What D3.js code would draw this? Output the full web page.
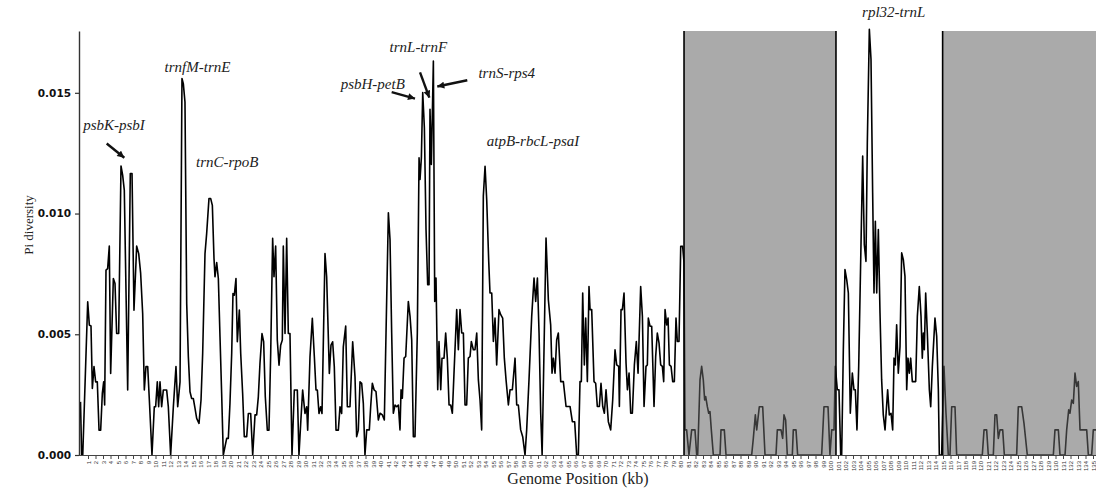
<!DOCTYPE html>
<html>
<head>
  <meta charset="utf-8">
  <title>Pi diversity</title>
  <script src="https://cdnjs.cloudflare.com/ajax/libs/d3/7.8.5/d3.min.js"></script>
  <style>
    body { margin: 0; background: #fff; }
    .ann { font-family: 'Liberation Serif', serif; font-style: italic; font-size: 15px; fill: #222; text-anchor: middle; }
    .axis-title { font-family: 'Liberation Serif', serif; fill: #222; text-anchor: middle; }
  </style>
</head>
<body>
  <svg id="chart" width="1096" height="492"></svg>
  <script>
    // window midpoints (kb) and nucleotide diversity in units of 0.001
    const kb = [
      0, 0.15, 0.3, 0.96, 1.18, 1.40, 1.58, 1.80, 2.02, 2.24, 2.47, 2.69,
      2.91, 3.09, 3.22, 3.40, 3.62, 3.84, 4.02, 4.38, 4.60, 4.82, 5.09, 5.40,
      5.62, 5.84, 6.29, 6.64, 6.87, 7.13, 7.49, 7.76, 8.02, 8.29, 8.51, 8.73,
      8.96, 9.18, 9.53, 9.84, 10.02, 10.24, 10.42, 10.60, 10.82, 11.04, 11.49, 11.71,
      12.02, 12.38, 12.73, 12.96, 13.27, 13.53, 13.71, 13.93, 14.16, 14.38, 14.60, 14.82,
      15.04, 15.27, 15.49, 15.80, 16.07, 16.29, 16.60, 16.82, 17.13, 17.36, 17.58, 17.80,
      17.93, 18.16, 18.38, 18.60, 18.82, 19.04, 19.49, 19.71, 19.93, 20.16, 20.33, 20.51,
      20.73, 20.91, 21.18, 21.36, 21.62, 21.84, 22.16, 22.38, 22.69, 22.96, 23.27, 23.49,
      23.71, 23.93, 24.20, 24.42, 24.64, 24.91, 25.13, 25.36, 25.62, 25.80, 26.02, 26.24,
      26.47, 26.69, 26.91, 27.04, 27.27, 27.49, 27.71, 27.93, 28.20, 28.51, 28.91, 29.13,
      29.36, 29.62, 29.93, 30.16, 30.29, 30.60, 30.91, 31.18, 31.40, 31.58, 31.80, 32.02,
      32.20, 32.60, 32.82, 33.18, 33.40, 33.62, 33.84, 34.07, 34.38, 34.60, 34.82, 35.04,
      35.36, 35.58, 35.93, 36.29, 36.60, 36.82, 37.04, 37.27, 37.49, 37.71, 37.93, 38.16,
      38.51, 38.69, 38.91, 39.14, 39.40, 39.71, 39.94, 40.25, 40.51, 41.05, 41.27, 41.49,
      41.71, 41.94, 42.16, 42.38, 42.60, 42.74, 42.91, 43.14, 43.36, 43.71, 43.94, 44.16,
      44.38, 44.60, 44.91, 45.14, 45.27, 45.45, 45.63, 45.85, 46.07, 46.29, 46.47, 46.60,
      46.78, 47.05, 47.23, 47.40, 47.63, 47.80, 48.03, 48.20, 48.47, 48.69, 48.91, 49.14,
      49.36, 49.58, 49.80, 50.16, 50.38, 50.60, 50.83, 51.05, 51.27, 51.49, 51.71, 51.94,
      52.11, 52.38, 52.60, 52.83, 53.05, 53.27, 53.49, 53.71, 53.94, 54.16, 54.43, 54.60,
      54.83, 55.05, 55.27, 55.49, 55.80, 56.03, 56.29, 56.51, 56.74, 57.05, 57.27, 57.58,
      57.94, 58.16, 58.38, 58.69, 58.96, 59.27, 59.49, 59.80, 60.16, 60.47, 60.69, 60.92,
      61.14, 61.36, 61.55, 62.07, 62.38, 62.69, 62.87, 63.05, 63.27, 63.49, 63.71, 64.03,
      64.38, 64.74, 65.27, 65.58, 65.89, 66.16, 66.38, 66.60, 66.78, 66.96, 67.18, 67.36,
      67.58, 67.80, 67.94, 68.16, 68.47, 68.69, 68.91, 69.18, 69.40, 69.63, 69.85, 70.07,
      70.38, 70.69, 70.96, 71.27, 71.49, 71.76, 71.85, 72.07, 72.25, 72.47, 72.74, 72.92,
      73.14, 73.36, 73.58, 73.85, 74.11, 74.34, 74.69, 74.92, 75.14, 75.40, 75.58, 75.71,
      75.94, 76.16, 76.47, 76.69, 76.91, 77.14, 77.36, 77.58, 77.76, 77.94, 78.16, 78.34,
      78.52, 78.74, 78.96, 79.18, 79.40, 79.58, 79.80, 80.03, 80.29, 80.47, 80.60, 80.82,
      81.13, 81.49, 81.93, 82.16, 82.29, 82.60, 82.82, 83.04, 83.22, 83.36, 83.58, 83.76,
      83.93, 84.11, 84.38, 85.27, 85.40, 85.84, 86.07, 89.49, 89.71, 89.98, 90.16, 90.51,
      90.96, 91.27, 92.73, 92.91, 93.40, 93.62, 93.80, 94.02, 94.24, 94.91, 95.04, 95.40,
      95.62, 98.82, 99.13, 99.67, 99.93, 100.16, 100.47, 100.64, 100.91, 101.13, 101.36, 101.49,
      101.71, 101.93, 102.16, 102.38, 102.64, 102.91, 103.13, 103.31, 103.53, 103.76, 104.02, 104.29,
      104.51, 104.73, 104.91, 105.18, 105.40, 105.62, 105.80, 105.98, 106.16, 106.38, 106.60, 106.82,
      107.04, 107.27, 107.62, 107.84, 108.07, 108.29, 108.47, 108.64, 108.82, 109.04, 109.27, 109.49,
      109.71, 109.93, 110.16, 110.33, 110.51, 110.69, 110.91, 111.36, 111.58, 111.84, 112.07, 112.24,
      112.38, 112.51, 112.69, 112.91, 113.18, 113.36, 113.58, 113.93, 114.16, 114.38, 114.51, 114.82,
      115.13, 115.40, 115.71, 115.93, 116.16, 116.60, 116.82, 120.24, 120.47, 120.82, 121.04, 121.71,
      121.93, 122.16, 122.38, 122.60, 122.96, 123.18, 124.82, 125.04, 125.49, 125.80, 126.24, 129.71,
      129.93, 130.38, 130.60, 131.27, 131.49, 131.76, 131.93, 132.16, 132.38, 132.60, 132.82, 133.04,
      133.27, 134.16, 134.38, 134.82, 135.04, 135.40
    ];
    const piMilli = [
      2.2, 0, 0, 6.34, 5.38, 5.34, 2.76, 3.66, 3.03, 3.03, 1.03, 1.03,
      2.55, 3.03, 2.07, 7.66, 7.72, 8.65, 3.38, 7.31, 7.10, 5.03, 5.03, 11.97,
      11.59, 10.97, 2.69, 11.66, 11.66, 6.00, 8.65, 8.34, 7.52, 5.86, 2.69, 3.66,
      3.66, 2.28, 0, 2.0, 2.0, 3.03, 2.0, 3.03, 2.0, 2.69, 2.69, 2.0,
      0, 2.0, 3.66, 2.0, 3.03, 15.59, 15.38, 14.62, 6.28, 4.07, 2.62, 2.34,
      2.34, 1.93, 1.52, 1.31, 2.28, 4.21, 8.34, 9.17, 10.62, 10.62, 10.34, 8.14,
      7.38, 7.97, 7.31, 4.90, 2.55, 0, 0.69, 0.69, 2.14, 4.21, 6.69, 6.62,
      7.31, 4.69, 6.00, 4.21, 2.55, 0.76, 0.76, 1.72, 1.72, 0, 1.66, 1.66,
      2.41, 3.79, 5.03, 4.69, 2.41, 1.03, 1.03, 4.21, 8.97, 7.38, 8.65, 4.76,
      3.72, 4.55, 4.76, 8.65, 5.03, 8.97, 5.03, 5.03, 0, 2.69, 2.69, 0,
      1.31, 2.69, 1.72, 2.0, 1.03, 4.07, 5.66, 4.07, 2.69, 2.69, 1.72, 2.0,
      1.72, 8.34, 7.38, 3.38, 4.55, 4.69, 3.66, 1.03, 1.03, 2.0, 1.72, 4.48,
      5.34, 2.0, 2.0, 4.69, 3.24, 0.76, 1.03, 3.03, 2.97, 2.14, 0, 1.04,
      1.04, 2.0, 2.97, 2.70, 2.63, 1.45, 1.73, 1.66, 1.45, 10.03, 8.92, 5.05,
      1.73, 2.07, 2.0, 2.07, 1.04, 2.70, 2.35, 4.01, 4.08, 6.36, 5.74, 4.77,
      0.76, 0.76, 5.05, 12.31, 11.41, 12.31, 15.01, 13.55, 9.34, 7.05, 7.05, 14.32,
      12.03, 16.32, 6.36, 7.33, 2.70, 4.70, 2.70, 4.01, 4.01, 5.05, 4.01, 2.07,
      2.07, 1.73, 3.39, 6.02, 4.36, 6.02, 5.05, 5.05, 2.07, 2.07, 4.01, 4.08,
      4.70, 4.36, 4.36, 5.05, 3.11, 2.28, 1.04, 10.72, 11.96, 10.58, 8.02, 6.71,
      6.71, 4.70, 5.67, 3.73, 6.02, 5.81, 5.67, 4.01, 3.11, 2.07, 2.70, 2.70,
      4.01, 2.07, 2.07, 1.04, 0.76, 0, 1.04, 3.11, 5.74, 7.33, 6.36, 7.33,
      5.05, 1.73, 0, 8.99, 6.43, 5.39, 3.39, 4.01, 3.39, 4.77, 5.05, 3.04,
      3.04, 2.01, 2.01, 1.38, 1.38, 0, 0, 3.04, 3.04, 6.71, 3.73, 5.67,
      3.04, 6.98, 6.02, 6.02, 3.04, 2.97, 2.01, 2.01, 2.97, 2.01, 1.73, 2.70,
      1.38, 1.04, 2.28, 4.36, 3.73, 3.67, 2.01, 6.02, 6.02, 6.71, 3.80, 2.70,
      3.39, 1.73, 1.73, 3.73, 4.70, 3.39, 6.98, 5.74, 2.01, 3.67, 3.73, 5.67,
      5.33, 5.33, 2.01, 4.08, 5.05, 4.63, 3.73, 3.67, 3.04, 6.02, 5.39, 5.67,
      3.73, 3.67, 3.04, 3.04, 5.67, 4.70, 4.70, 8.64, 8.64, 7.95, 1.04, 1.04,
      0, 1.04, 1.04, 0, 0, 3.11, 3.67, 3.11, 2.28, 2.42, 2.0, 1.73,
      1.80, 1.04, 0, 0, 1.04, 1.04, 0, 0, 0.69, 1.66, 1.04, 2.0,
      2.0, 0, 0, 1.04, 1.04, 0.69, 1.66, 1.45, 0, 0, 1.04, 1.04,
      0, 0, 2.0, 2.0, 0, 1.04, 1.04, 3.67, 2.70, 2.70, 0, 0,
      4.36, 7.68, 7.26, 6.71, 1.73, 3.39, 2.70, 2.70, 1.04, 3.67, 7.95, 12.38,
      8.71, 8.02, 12.93, 17.63, 16.39, 10.86, 6.71, 9.68, 6.71, 9.34, 5.88, 3.11,
      1.66, 1.04, 2.70, 1.66, 1.73, 1.04, 4.01, 3.73, 5.39, 3.39, 4.50, 8.37,
      8.09, 7.40, 2.70, 4.01, 3.39, 4.01, 3.04, 3.04, 5.74, 6.98, 5.74, 4.01,
      5.05, 4.36, 6.71, 5.05, 2.70, 2.0, 3.67, 5.67, 4.91, 2.70, 0, 0,
      3.67, 1.73, 0, 0, 2.0, 2.0, 0, 0, 1.04, 1.04, 0, 0,
      1.66, 1.66, 0.69, 1.04, 1.04, 0, 0, 2.0, 2.0, 1.31, 0, 0,
      1.04, 1.04, 0, 0, 1.04, 1.87, 1.73, 2.28, 2.14, 3.39, 2.84, 3.04,
      1.04, 1.04, 0, 0, 1.04, 1.04
    ];

    // inverted repeat regions (kb)
    const irStart = [80.47, 114.95];
    const irEnd = [100.73, 135.4];

    const yTickValues = [0, 5, 10, 15];
    const yTickLabels = ['0.000', '0.005', '0.010', '0.015'];
    const xTicks = d3.range(1, 136);

    const labelText = ['psbK-psbI', 'trnfM-trnE', 'trnC-rpoB', 'psbH-petB', 'trnL-trnF', 'trnS-rps4', 'atpB-rbcL-psaI', 'rpl32-trnL'];
    const labelKb = [4.47, 15.6, 19.57, 38.97, 45.04, 56.83, 60.33, 108.44];
    const labelPi = [13.44, 15.85, 11.91, 15.15, 16.69, 15.60, 12.79, 18.12];

    // arrows: from (kb, pi) to (kb, pi)
    const arrowFrom = [[3.49, 12.9], [41.49, 15.03], [45.27, 15.85], [51.57, 15.52]];
    const arrowTo = [[5.84, 12.31], [44.6, 14.76], [46.51, 14.80], [47.57, 15.26]];

    const data = kb.map((k, i) => ({ kb: k, pi: piMilli[i] }));

    const svg = d3.select('#chart');
    const x = d3.scaleLinear().domain([0, 135.4]).range([80.5, 1096]);
    const y = d3.scaleLinear().domain([0, 17.56]).range([455, 31]);

    // diversity line
    const line = d3.line().x(d => x(d.kb)).y(d => y(d.pi));
    svg.append('path')
      .datum(data)
      .attr('d', line)
      .attr('fill', 'none')
      .attr('stroke', '#000')
      .attr('stroke-width', 1.6)
      .attr('stroke-linejoin', 'round');

    // shaded IR blocks laid over the line
    svg.append('g').selectAll('rect')
      .data(irStart)
      .join('rect')
      .attr('x', (d, i) => x(d))
      .attr('y', y(17.56))
      .attr('width', (d, i) => x(irEnd[i]) - x(d))
      .attr('height', y(0) - y(17.56))
      .attr('fill', '#646464')
      .attr('fill-opacity', 0.55);

    const edges = irStart.concat(irEnd).filter(d => d < 135.4);
    svg.append('g').selectAll('line')
      .data(edges)
      .join('line')
      .attr('x1', d => x(d)).attr('x2', d => x(d))
      .attr('y1', y(17.56)).attr('y2', y(0))
      .attr('stroke', '#000')
      .attr('stroke-width', 1.6);

    // axes
    const yAxis = d3.axisLeft(y)
      .tickValues(yTickValues)
      .tickFormat((d, i) => yTickLabels[i])
      .tickSize(4)
      .tickSizeOuter(0)
      .tickPadding(4);
    const gy = svg.append('g').attr('transform', 'translate(79,0)').call(yAxis);
    gy.select('.domain').attr('stroke', '#333').attr('stroke-width', 1.4);
    gy.selectAll('.tick line').attr('stroke', '#333').attr('stroke-width', 1.2);
    gy.selectAll('text')
      .attr('font-family', 'DejaVu Sans, sans-serif')
      .attr('font-weight', 'bold')
      .attr('font-size', 10.5)
      .attr('fill', '#111');

    const xAxis = d3.axisBottom(x).tickValues(xTicks).tickSize(4).tickSizeOuter(0);
    const gx = svg.append('g').attr('transform', 'translate(0,455)').call(xAxis);
    gx.select('.domain').attr('d', 'M79,0.5H1096').attr('stroke', '#444').attr('stroke-width', 1.2);
    gx.selectAll('.tick line').attr('stroke', '#444');
    gx.selectAll('text')
      .attr('transform', 'rotate(-90)')
      .attr('text-anchor', 'end')
      .attr('x', -6)
      .attr('y', 0)
      .attr('dy', '0.35em')
      .attr('font-family', 'Liberation Sans, sans-serif')
      .attr('font-size', 6)
      .attr('fill', '#333');

    // axis titles
    svg.append('text')
      .attr('class', 'axis-title')
      .attr('font-size', 16)
      .attr('x', 578)
      .attr('y', 484)
      .text('Genome Position (kb)');
    svg.append('text')
      .attr('class', 'axis-title')
      .attr('font-size', 13)
      .attr('transform', 'translate(33,225) rotate(-90)')
      .text('Pi diversity');

    // region labels
    svg.append('g').selectAll('text')
      .data(labelText)
      .join('text')
      .attr('class', 'ann')
      .attr('x', (d, i) => x(labelKb[i]))
      .attr('y', (d, i) => y(labelPi[i]))
      .text(d => d);

    svg.append('defs').append('marker')
      .attr('id', 'head')
      .attr('viewBox', '0 0 10 10')
      .attr('refX', 10).attr('refY', 5)
      .attr('markerUnits', 'userSpaceOnUse')
      .attr('markerWidth', 8).attr('markerHeight', 7)
      .attr('orient', 'auto')
      .append('path')
      .attr('d', 'M0,0L10,5L0,10z')
      .attr('fill', '#111');

    svg.append('g').selectAll('line')
      .data(arrowFrom)
      .join('line')
      .attr('x1', d => x(d[0]))
      .attr('y1', d => y(d[1]))
      .attr('x2', (d, i) => x(arrowTo[i][0]))
      .attr('y2', (d, i) => y(arrowTo[i][1]))
      .attr('stroke', '#111')
      .attr('stroke-width', 2.4)
      .attr('marker-end', 'url(#head)');
  </script>
</body>
</html>
